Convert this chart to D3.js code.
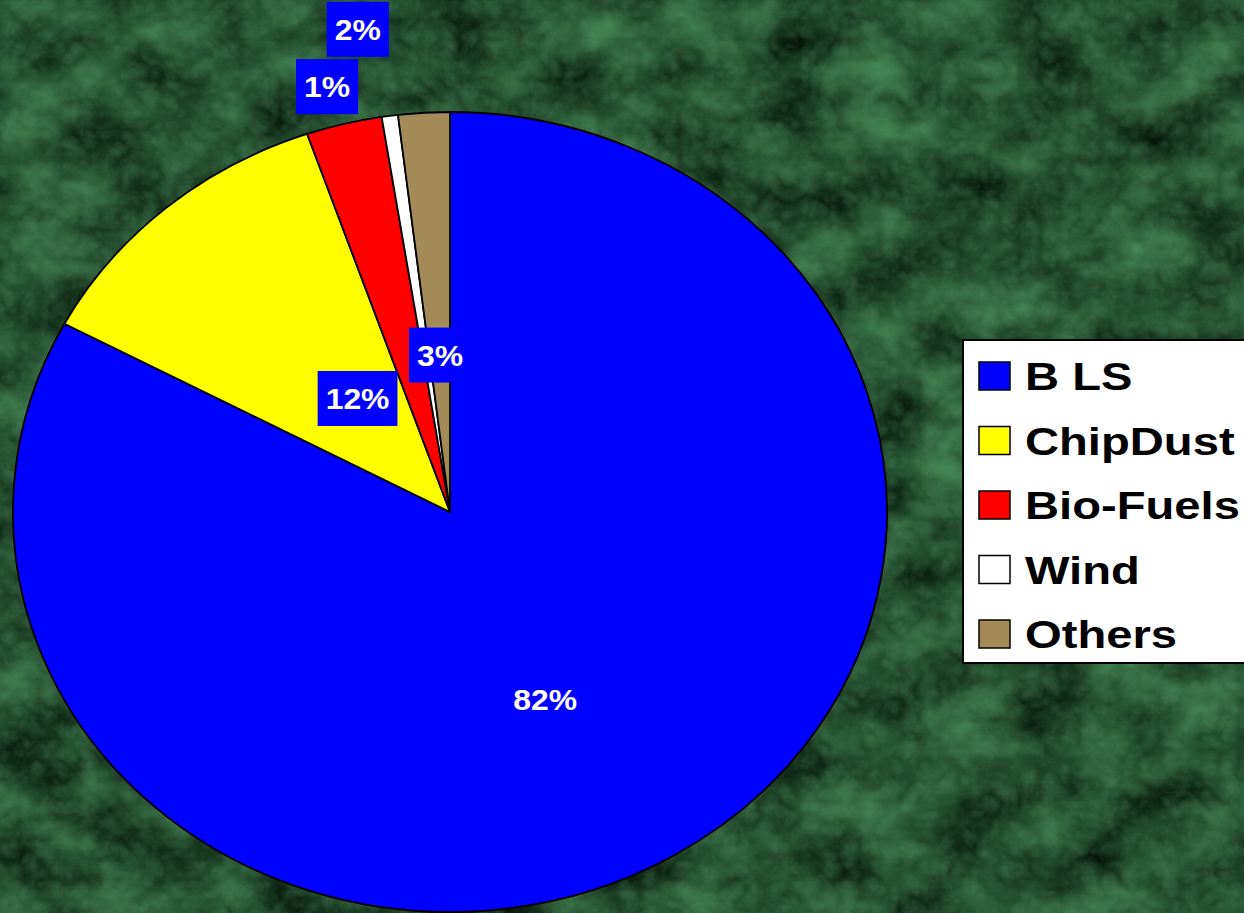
<!DOCTYPE html>
<html>
<head>
<meta charset="utf-8">
<script src="https://cdn.jsdelivr.net/npm/d3@7"></script>
<style>
  html, body { margin: 0; padding: 0; background: #1f4a2e; overflow: hidden; }
  svg { display: block; }
</style>
</head>
<body>
<svg id="chart" width="1244" height="913"></svg>
<script>
// ---- data ----
const categories = ["B LS", "ChipDust", "Bio-Fuels", "Wind", "Others"];
const values = [82.8, 11.9, 2.8, 0.6, 1.9];
const labels = ["82%", "12%", "3%", "1%", "2%"];
const colors = ["#0000FF", "#FFFF00", "#FF0000", "#FFFFFF", "#A38B58"];

// ---- layout ----
const W = 1244, H = 913;
const cx = 450, cy = 512, R = 400, sx = 437 / 400;
const labelRadius = [0.516, 0.354, 0.393, 1.10, 1.225];
const labelNudgeDeg = [6, 3.8, 10.7, -6.9, -6.5];

const svg = d3.select("#chart");
const defs = svg.append("defs");

// marble-like background
const f = defs.append("filter").attr("id", "marble")
  .attr("filterUnits", "userSpaceOnUse")
  .attr("color-interpolation-filters", "sRGB")
  .attr("x", 0).attr("y", 0).attr("width", W).attr("height", H);
f.append("feTurbulence").attr("type", "fractalNoise")
  .attr("baseFrequency", "0.012 0.018").attr("numOctaves", 5).attr("seed", 7).attr("result", "n1");
f.append("feColorMatrix").attr("in", "n1").attr("type", "matrix")
  .attr("values", "0.32 0 0 0 -0.02  0.6 0 0 0 0.0  0.4 0 0 0 -0.02  0 0 0 0 1")
  .attr("result", "c1");
f.append("feTurbulence").attr("type", "turbulence")
  .attr("baseFrequency", "0.05").attr("numOctaves", 3).attr("seed", 3).attr("result", "n2");
f.append("feColorMatrix").attr("in", "n2").attr("type", "matrix")
  .attr("values", "0 0 0 0 0.33  0 0 0 0 0.58  0 0 0 0 0.42  0.55 0 0 0 -0.08")
  .attr("result", "c2");
f.append("feComposite").attr("in", "c2").attr("in2", "c1").attr("operator", "over");

svg.append("rect").attr("width", W).attr("height", H).attr("fill", "#1f4a2e");
svg.append("rect").attr("width", W).attr("height", H).attr("fill", "#1f4a2e").attr("filter", "url(#marble)");

// ---- pie ----
const pie = d3.pie().sort(null).value(d => d);
const arcs = pie(values);
const arc = d3.arc().innerRadius(0).outerRadius(R);

const gPie = svg.append("g").attr("transform", `translate(${cx},${cy}) scale(${sx},1)`);
gPie.selectAll("path").data(arcs).join("path")
  .attr("d", arc)
  .attr("fill", (d, i) => colors[i])
  .attr("stroke", "#000")
  .attr("stroke-width", 1.8)
  .attr("stroke-linejoin", "round")
  .attr("vector-effect", "non-scaling-stroke");

// ---- data labels ----
const lblScale = 1.1;
const gLbl = svg.append("g");
arcs.forEach((d, i) => {
  const a = (d.startAngle + d.endAngle) / 2 + labelNudgeDeg[i] * Math.PI / 180;
  const r = labelRadius[i] * R;
  const x = cx + Math.sin(a) * r * sx;
  const y = cy - Math.cos(a) * r;
  const g = gLbl.append("g").attr("transform", `translate(${x},${y}) scale(${lblScale},1)`);
  const rect = g.append("rect").attr("fill", "#0000FF");
  const t = g.append("text")
    .attr("text-anchor", "middle")
    .attr("dy", "0.36em")
    .attr("font-family", "'Liberation Sans', Arial, sans-serif")
    .attr("font-weight", "bold")
    .attr("font-size", 29)
    .attr("fill", "#fff")
    .text(labels[i]);
  const bw = t.node().getComputedTextLength() + 16 / lblScale;
  const bh = 55;
  rect.attr("x", -bw / 2).attr("y", -bh / 2).attr("width", bw).attr("height", bh);
});

// ---- legend ----
const legX = 963, legY = 340, legW = 300, legH = 323;
const gLeg = svg.append("g");
gLeg.append("rect")
  .attr("x", legX).attr("y", legY).attr("width", legW).attr("height", legH)
  .attr("fill", "#fff").attr("stroke", "#000").attr("stroke-width", 2);
const rowStep = 64.5, firstBase = 390;
categories.forEach((c, i) => {
  const base = firstBase + i * rowStep;
  gLeg.append("rect")
    .attr("x", 979).attr("y", base - 28).attr("width", 31).attr("height", 28)
    .attr("fill", colors[i]).attr("stroke", "#000").attr("stroke-width", 1.5);
  gLeg.append("g").attr("transform", `translate(1025,${base}) scale(1.21,1)`)
    .append("text")
    .attr("font-family", "'Liberation Sans', Arial, sans-serif")
    .attr("font-weight", "bold")
    .attr("font-size", 39)
    .attr("fill", "#000")
    .text(c);
});
</script>
</body>
</html>
